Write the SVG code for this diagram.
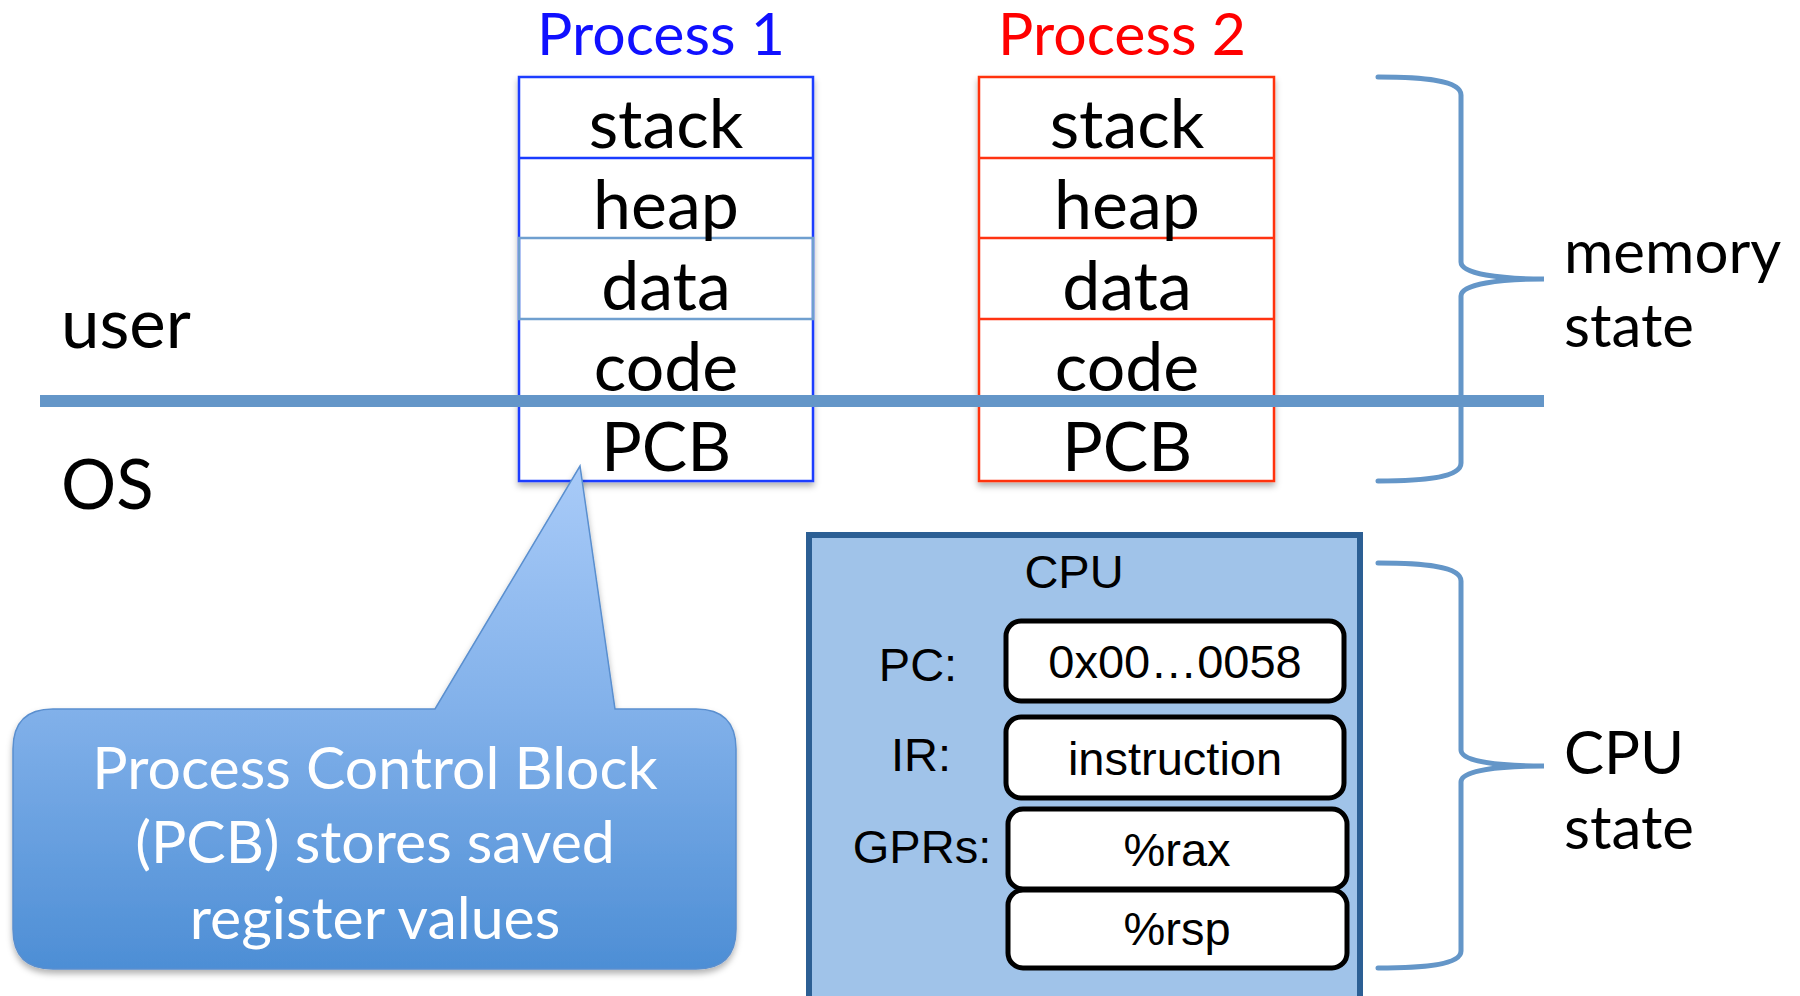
<svg xmlns="http://www.w3.org/2000/svg" width="1800" height="996" viewBox="0 0 1800 996">
  <style>
    .cal { font-family: Lato, "Open Sans", "Noto Sans", sans-serif; }
    .ari { font-family: "Liberation Sans", Arial, sans-serif; }
    .cell { font-size: 68px; fill: #000; text-anchor: middle; }
    .title { font-size: 59px; text-anchor: middle; }
    .side { font-size: 69px; fill: #000; }
    .lbl { font-size: 60px; fill: #000; }
    .note { font-size: 59px; fill: #fff; text-anchor: middle; }
    .reg { font-size: 47px; fill: #000; text-anchor: middle; }
    .regbox { fill: #fff; stroke: #000; stroke-width: 5; }
    .brace { fill: none; stroke: #6496c8; stroke-width: 5; stroke-linecap: round; }
    .p1 { fill: #fff; stroke: #1a3cff; stroke-width: 2.5; }
    .p2 { fill: #fff; stroke: #ff3311; stroke-width: 2.5; }
  </style>
  <defs>
    <filter id="softShadow" x="-10%" y="-10%" width="120%" height="130%">
      <feDropShadow dx="0" dy="4" stdDeviation="3" flood-color="#000" flood-opacity="0.3"/>
    </filter>
    <linearGradient id="calloutFill" x1="0" y1="466" x2="0" y2="969" gradientUnits="userSpaceOnUse">
      <stop offset="0" stop-color="#a9cbf8"/>
      <stop offset="0.48" stop-color="#82b1ea"/>
      <stop offset="1" stop-color="#4d8ed5"/>
    </linearGradient>
  </defs>

  <rect x="0" y="0" width="1800" height="996" fill="#fff"/>

  <!-- process 1 memory segments -->
  <g id="process1">
    <text class="cal title" x="661" y="55" fill="#1010ff">Process 1</text>
    <g filter="url(#softShadow)">
      <rect class="p1" x="519" y="77" width="294" height="404"/>
    </g>
    <line x1="519" y1="158" x2="813" y2="158" stroke="#1a3cff" stroke-width="2.5"/>
    <rect x="519" y="238" width="294" height="81" fill="none" stroke="#6f9fcf" stroke-width="2.5"/>
    <line x1="519" y1="400" x2="813" y2="400" stroke="#1a3cff" stroke-width="2.5"/>
    <text class="cal cell" x="666" y="148">stack</text>
    <text class="cal cell" x="666" y="229">heap</text>
    <text class="cal cell" x="666" y="310">data</text>
    <text class="cal cell" x="666" y="391">code</text>
    <text class="cal cell" x="666" y="471">PCB</text>
  </g>

  <!-- process 2 memory segments -->
  <g id="process2">
    <text class="cal title" x="1122" y="55" fill="#ff0000">Process 2</text>
    <g filter="url(#softShadow)">
      <rect class="p2" x="979" y="77" width="295" height="404"/>
    </g>
    <line x1="979" y1="158" x2="1274" y2="158" stroke="#ff3311" stroke-width="2.5"/>
    <line x1="979" y1="238" x2="1274" y2="238" stroke="#ff3311" stroke-width="2.5"/>
    <line x1="979" y1="319" x2="1274" y2="319" stroke="#ff3311" stroke-width="2.5"/>
    <line x1="979" y1="400" x2="1274" y2="400" stroke="#ff3311" stroke-width="2.5"/>
    <text class="cal cell" x="1127" y="148">stack</text>
    <text class="cal cell" x="1127" y="229">heap</text>
    <text class="cal cell" x="1127" y="310">data</text>
    <text class="cal cell" x="1127" y="391">code</text>
    <text class="cal cell" x="1127" y="471">PCB</text>
  </g>

  <!-- user / kernel boundary -->
  <g id="boundary">
    <line x1="40" y1="401" x2="1544" y2="401" stroke="#6496c8" stroke-width="12"/>
    <text class="cal side" x="61" y="348">user</text>
    <text class="cal side" x="61" y="509">OS</text>
  </g>

  <!-- CPU with its registers -->
  <g id="cpu">
    <rect x="809" y="535" width="551" height="480" fill="#a0c3e9" stroke="#2c5f94" stroke-width="6"/>
    <text class="ari reg" x="1074" y="588">CPU</text>
    <text class="ari reg" x="918" y="681">PC:</text>
    <text class="ari reg" x="921" y="771">IR:</text>
    <text class="ari reg" x="922" y="863">GPRs:</text>
    <rect class="regbox" x="1006" y="621" width="338" height="80" rx="15"/>
    <rect class="regbox" x="1006" y="717" width="338" height="81" rx="15"/>
    <rect class="regbox" x="1008" y="809" width="339" height="80" rx="15"/>
    <rect class="regbox" x="1008" y="890" width="339" height="78" rx="15"/>
    <text class="ari reg" x="1175" y="678">0x00…0058</text>
    <text class="ari reg" x="1175" y="775">instruction</text>
    <text class="ari reg" x="1177" y="866">%rax</text>
    <text class="ari reg" x="1177" y="945">%rsp</text>
  </g>

  <!-- callout pointing at the PCB -->
  <g id="callout">
    <path d="M53,709 L435,709 L580,466 L615,709 L696,709 Q736,709 736,749 L736,929 Q736,969 696,969 L53,969 Q13,969 13,929 L13,749 Q13,709 53,709 Z" fill="url(#calloutFill)" stroke="#5a8fcf" stroke-width="1.5" filter="url(#softShadow)"/>
    <text class="cal note" x="375" y="789">Process Control Block</text>
    <text class="cal note" x="375" y="863">(PCB) stores saved</text>
    <text class="cal note" x="375" y="939">register values</text>
  </g>

  <!-- state braces -->
  <g id="braces">
    <path class="brace" d="M1378,77 C1422,77 1461,80 1461,95 L1461,262 C1461,274 1500,279 1544,279 C1500,279 1461,284 1461,296 L1461,463 C1461,478 1422,481 1378,481"/>
    <path class="brace" d="M1378,563 C1422,563 1461,566 1461,581 L1461,750 C1461,762 1500,766 1544,766 C1500,766 1461,770 1461,782 L1461,951 C1461,965 1422,968 1378,968"/>
    <text class="cal lbl" x="1564" y="273">memory</text>
    <text class="cal lbl" x="1564" y="347">state</text>
    <text class="cal lbl" x="1564" y="774">CPU</text>
    <text class="cal lbl" x="1564" y="849">state</text>
  </g>
</svg>
